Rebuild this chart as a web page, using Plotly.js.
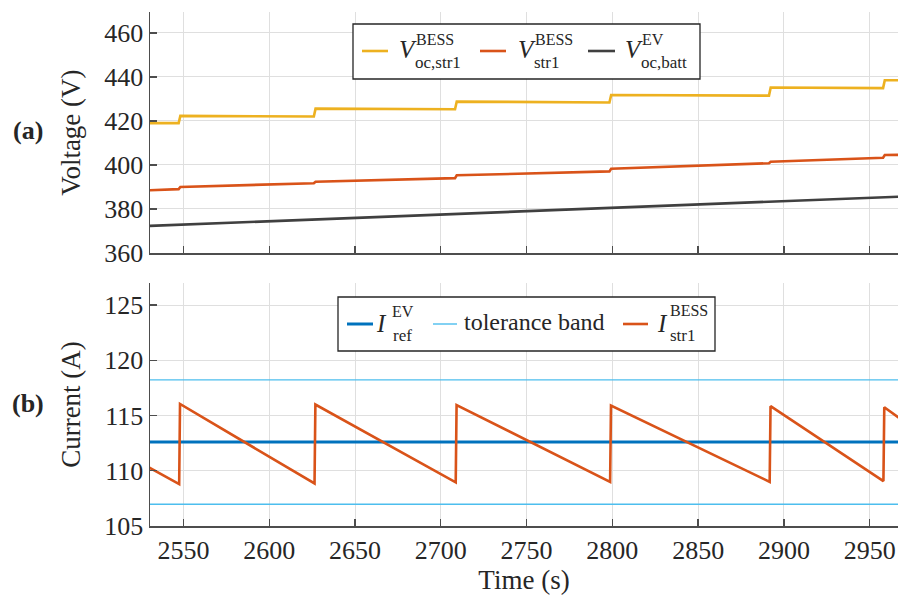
<!DOCTYPE html>
<html>
<head>
<meta charset="utf-8">
<script src="https://cdn.plot.ly/plotly-3.0.1.min.js"></script>
<style>html,body{margin:0;padding:0;background:#fff;}#chart{width:899px;height:605px;}</style>
</head>
<body>
<div id="chart"></div>
<script>
// ---------- data ----------
// (a) voltage panel
const tStep = [2530, 2547.2, 2548.2, 2626.0, 2627.0, 2708.3, 2709.3, 2798.3, 2799.3, 2891.3, 2892.3, 2957.8, 2958.8, 2967];
const vOcStr1 = [419.0, 419.0, 422.3, 422.0, 425.6, 425.3, 428.8, 428.4, 431.8, 431.5, 435.2, 434.9, 438.5, 438.5];
const vStr1 = [388.5, 389.0, 390.0, 391.7, 392.4, 394.0, 395.3, 397.1, 398.3, 400.8, 401.5, 403.3, 404.5, 404.6];
const tEv = [2530, 2967];
const vOcBatt = [372.3, 385.6];
// (b) current panel
const tCur = [2530, 2547.5, 2548.0, 2626.4, 2626.9, 2708.7, 2709.2, 2798.7, 2799.2, 2891.7, 2892.2, 2958.0, 2958.5, 2967];
const iStr1 = [110.3, 108.8, 116.05, 108.85, 116.0, 108.95, 115.95, 109.0, 115.9, 109.0, 115.85, 109.07, 115.75, 114.8];
const tRef = [2530, 2967];
const iRef = [112.6, 112.6];
const iTolUpper = [118.23, 118.23];
const iTolLower = [106.97, 106.97];
// tick labels
const xTicks = [2550, 2600, 2650, 2700, 2750, 2800, 2850, 2900, 2950];
const vTicks = [360, 380, 400, 420, 440, 460];
const iTicks = [105, 110, 115, 120, 125];

// ---------- styles ----------
const FONT = 'Liberation Serif, Times New Roman, serif';
const TXT = '#262626';
const AX = '#4d4d4d';
const GRID = '#dfdfdf';
const C_Y = '#EDB120', C_R = '#D95319', C_K = '#404040', C_B = '#0072BD', C_LB = '#4DBEEE';

const W = 899, H = 605, L = 150, R = 898, T = 12, B = 526;
const px = x => (x - L) / (R - L);
const py = y => (B - y) / (B - T);

const traces = [
  {x: tStep, y: vOcStr1, xaxis: 'x2', yaxis: 'y2', mode: 'lines', line: {color: C_Y, width: 2.6}},
  {x: tStep, y: vStr1, xaxis: 'x2', yaxis: 'y2', mode: 'lines', line: {color: C_R, width: 2.6}},
  {x: tEv, y: vOcBatt, xaxis: 'x2', yaxis: 'y2', mode: 'lines', line: {color: C_K, width: 2.6}},
  {x: tRef, y: iTolUpper, xaxis: 'x', yaxis: 'y', mode: 'lines', line: {color: C_LB, width: 1.4}},
  {x: tRef, y: iTolLower, xaxis: 'x', yaxis: 'y', mode: 'lines', line: {color: C_LB, width: 1.4}},
  {x: tRef, y: iRef, xaxis: 'x', yaxis: 'y', mode: 'lines', line: {color: C_B, width: 3}},
  {x: tCur, y: iStr1, xaxis: 'x', yaxis: 'y', mode: 'lines', line: {color: C_R, width: 2.6}}
];

const axisCommon = {
  showline: true, linecolor: AX, linewidth: 1.5, mirror: false,
  ticks: 'inside', ticklen: 7, tickwidth: 1.3, tickcolor: AX,
  showgrid: true, gridcolor: GRID, gridwidth: 1, zeroline: false,
  tickfont: {family: FONT, size: 26, color: TXT}
};

const shapes = [];
const annotations = [];
function legBox(x0, y0, x1, y1) {
  shapes.push({type: 'rect', xref: 'paper', yref: 'paper', x0: px(x0), x1: px(x1), y0: py(y1), y1: py(y0),
    fillcolor: '#ffffff', line: {color: '#262626', width: 1.3}, layer: 'above'});
}
function legLine(x0, x1, y, color, width) {
  shapes.push({type: 'line', xref: 'paper', yref: 'paper', x0: px(x0), x1: px(x1), y0: py(y), y1: py(y),
    line: {color: color, width: width}, layer: 'above'});
}
function txt(x, y, text, size, anchor) {
  annotations.push({xref: 'paper', yref: 'paper', x: px(x), y: py(y), text: text, showarrow: false,
    xanchor: anchor || 'left', yanchor: 'middle', borderpad: 0, font: {family: FONT, size: size, color: TXT}});
}
// top legend
legBox(353, 24, 700, 79);
legLine(362, 388, 51, C_Y, 2.6);
txt(398, 50, '<i>V</i>', 25); txt(415, 39, 'BESS', 16); txt(414, 63, 'oc,str1', 17);
legLine(480, 506, 51, C_R, 2.6);
txt(517, 50, '<i>V</i>', 25); txt(534, 39, 'BESS', 16); txt(533, 63, 'str1', 17);
legLine(588, 615, 51, C_K, 2.6);
txt(624, 50, '<i>V</i>', 25); txt(641, 39, 'EV', 16); txt(640, 63, 'oc,batt', 17);
// bottom legend
legBox(338, 297, 715, 351);
legLine(347, 373, 324, C_B, 3);
txt(375, 323, '<i>I</i>', 25); txt(391, 312, 'EV', 16); txt(392, 335, 'ref', 17);
legLine(433, 457, 324, C_LB, 1.4);
txt(463, 322, 'tolerance band', 24);
legLine(623, 648, 324, C_R, 2.6);
txt(656, 323, '<i>I</i>', 25); txt(669, 311, 'BESS', 16); txt(669, 335, 'str1', 17);
// panel labels
txt(28, 131, '<b>(a)</b>', 26, 'center');
txt(28, 403, '<b>(b)</b>', 26, 'center');

const layout = {
  width: W, height: H,
  margin: {l: L, r: W - R, t: T, b: H - B},
  paper_bgcolor: '#ffffff', plot_bgcolor: '#ffffff',
  showlegend: false,
  font: {family: FONT, color: TXT},
  xaxis: Object.assign({}, axisCommon, {
    anchor: 'y', range: [2530.5, 2966.5], tickmode: 'array', tickvals: xTicks, ticktext: xTicks.map(String),
    title: {text: 'Time (s)', font: {family: FONT, size: 27, color: TXT}, standoff: 6}, automargin: false
  }),
  xaxis2: Object.assign({}, axisCommon, {
    anchor: 'y2', matches: 'x', range: [2530.5, 2966.5], tickmode: 'array', tickvals: xTicks, showticklabels: false
  }),
  yaxis: Object.assign({}, axisCommon, {
    anchor: 'x', domain: [0, py(283)], range: [105, 127], tickmode: 'array', tickvals: iTicks, ticktext: iTicks.map(String),
    title: {text: 'Current (A)', font: {family: FONT, size: 27, color: TXT}, standoff: 16}, automargin: false
  }),
  yaxis2: Object.assign({}, axisCommon, {
    anchor: 'x2', domain: [py(253), 1], range: [360, 469.5], tickmode: 'array', tickvals: vTicks, ticktext: vTicks.map(String),
    title: {text: 'Voltage (V)', font: {family: FONT, size: 27, color: TXT}, standoff: 16}, automargin: false
  }),
  shapes: shapes,
  annotations: annotations
};

Plotly.newPlot('chart', traces, layout, {staticPlot: true, displayModeBar: false});
</script>
</body>
</html>
